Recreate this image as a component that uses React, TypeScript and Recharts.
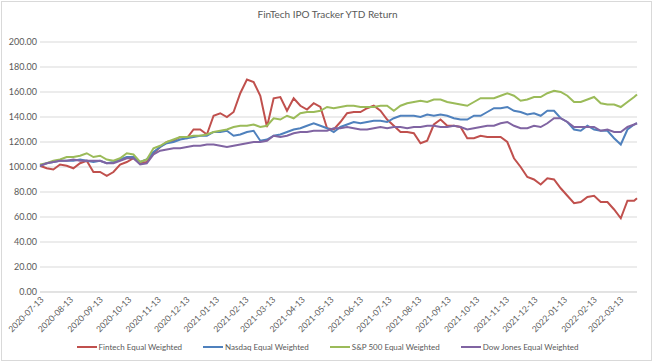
import { LineChart, Line, XAxis, YAxis, CartesianGrid, Legend } from "recharts"

// weekly closes, indexed to 100 at 2020-07-13
const dates = [
  "2020-07-13", "2020-07-20", "2020-07-27", "2020-08-03", "2020-08-10", "2020-08-17", "2020-08-24", "2020-08-31",
  "2020-09-07", "2020-09-14", "2020-09-21", "2020-09-28", "2020-10-05", "2020-10-12", "2020-10-19", "2020-10-26",
  "2020-11-02", "2020-11-09", "2020-11-16", "2020-11-23", "2020-11-30", "2020-12-07", "2020-12-14", "2020-12-21",
  "2020-12-28", "2021-01-04", "2021-01-11", "2021-01-18", "2021-01-25", "2021-02-01", "2021-02-08", "2021-02-15",
  "2021-02-22", "2021-03-01", "2021-03-08", "2021-03-15", "2021-03-22", "2021-03-29", "2021-04-05", "2021-04-12",
  "2021-04-19", "2021-04-26", "2021-05-03", "2021-05-10", "2021-05-17", "2021-05-24", "2021-05-31", "2021-06-07",
  "2021-06-14", "2021-06-21", "2021-06-28", "2021-07-05", "2021-07-12", "2021-07-19", "2021-07-26", "2021-08-02",
  "2021-08-09", "2021-08-16", "2021-08-23", "2021-08-30", "2021-09-06", "2021-09-13", "2021-09-20", "2021-09-27",
  "2021-10-04", "2021-10-11", "2021-10-18", "2021-10-25", "2021-11-01", "2021-11-08", "2021-11-15", "2021-11-22",
  "2021-11-29", "2021-12-06", "2021-12-13", "2021-12-20", "2021-12-27", "2022-01-03", "2022-01-10", "2022-01-17",
  "2022-01-24", "2022-01-31", "2022-02-07", "2022-02-14", "2022-02-21", "2022-02-28", "2022-03-07", "2022-03-14",
  "2022-03-21", "2022-03-28", "2022-03-31",
]

const fintech = [
  101, 99, 98, 102, 101, 99, 103, 105, 96, 96, 93, 96, 102, 104, 107, 103, 104, 111, 116, 120, 121, 124, 123,
  130, 130, 126, 141, 143, 140, 144, 159, 170, 168, 157, 132, 155, 156, 145, 155, 149, 146, 151, 148, 131, 130, 136,
  143, 144, 144, 147, 149, 145, 138, 133, 128, 128, 127, 119, 121, 134, 138, 133, 133, 132, 123, 123, 125, 124,
  124, 124, 120, 107, 100, 92, 90, 86, 91, 90, 83, 77, 71, 72, 76, 77, 72, 72, 66, 59, 73, 73, 75,
]

const nasdaq = [
  101, 103, 104, 105, 105, 105, 106, 105, 104, 105, 103, 104, 106, 108, 108, 104, 106, 112, 116, 119, 120, 122, 123,
  124, 125, 125, 128, 128, 129, 125, 126, 128, 129, 121, 122, 125, 126, 128, 130, 131, 133, 135, 133, 131, 128, 132,
  134, 136, 135, 136, 137, 137, 136, 139, 141, 141, 141, 140, 142, 141, 142, 141, 139, 138, 138, 141, 141, 144,
  147, 147, 148, 145, 144, 142, 143, 141, 145, 145, 139, 136, 130, 129, 133, 130, 129, 129, 123, 118, 130, 134, 135,
]

const sp500 = [
  102, 103, 105, 106, 108, 108, 109, 111, 108, 109, 106, 105, 107, 111, 110, 104, 106, 115, 117, 120, 122, 124, 124,
  125, 125, 126, 128, 129, 130, 132, 133, 133, 134, 132, 133, 139, 138, 141, 139, 143, 144, 144, 145, 148, 147, 148,
  149, 149, 148, 148, 148, 149, 149, 145, 149, 151, 152, 153, 152, 154, 154, 152, 151, 150, 149, 152, 155, 155,
  155, 157, 159, 157, 153, 154, 156, 156, 159, 161, 160, 157, 152, 152, 154, 156, 151, 150, 150, 148, 152, 156, 158,
]

const dowJones = [
  101, 103, 104, 105, 105, 106, 105, 105, 105, 105, 103, 103, 105, 107, 107, 102, 103, 110, 113, 114, 115, 115, 116,
  117, 117, 118, 118, 117, 116, 117, 118, 119, 120, 120, 121, 125, 124, 125, 127, 128, 128, 129, 129, 129, 131, 131,
  132, 131, 130, 130, 131, 132, 131, 132, 132, 131, 132, 132, 133, 133, 132, 132, 133, 132, 130, 131, 132, 133,
  133, 135, 136, 133, 131, 131, 133, 132, 135, 139, 139, 136, 132, 132, 132, 132, 129, 130, 128, 128, 132, 134, 135,
]

const xTicks = [
  "2020-07-13", "2020-08-13", "2020-09-13", "2020-10-13", "2020-11-13", "2020-12-13", "2021-01-13",
  "2021-02-13", "2021-03-13", "2021-04-13", "2021-05-13", "2021-06-13", "2021-07-13", "2021-08-13",
  "2021-09-13", "2021-10-13", "2021-11-13", "2021-12-13", "2022-01-13", "2022-02-13", "2022-03-13",
]

const yTicks = [0, 20, 40, 60, 80, 100, 120, 140, 160, 180, 200]

const series = [
  { key: "fintech", name: "Fintech Equal Weighted", color: "#c0504d" },
  { key: "nasdaq", name: "Nasdaq Equal Weighted", color: "#4f81bd" },
  { key: "sp500", name: "S&P 500 Equal Weighted", color: "#9bbb59" },
  { key: "dowJones", name: "Dow Jones Equal Weighted", color: "#8064a2" },
]

const FONT = "Lato, 'Open Sans', sans-serif"
const TEXT = "#595959"

const chartData = dates.map((d, i) => ({
  t: Date.parse(d),
  fintech: fintech[i],
  nasdaq: nasdaq[i],
  sp500: sp500[i],
  dowJones: dowJones[i],
}))

const fmtDate = (v: number) => new Date(v).toISOString().slice(0, 10)

function LegendContent() {
  return (
    <div
      style={{
        display: "flex",
        justifyContent: "center",
        fontFamily: FONT,
        fontSize: 8,
        color: TEXT,
      }}
    >
      {series.map((s) => (
        <div key={s.key} style={{ display: "flex", alignItems: "center", margin: "0 10.5px" }}>
          <span
            style={{ display: "inline-block", width: 20, height: 2.5, background: s.color, marginRight: 2 }}
          />
          {s.name}
        </div>
      ))}
    </div>
  )
}

export default function App() {
  return (
    <div style={{ position: "fixed", left: 0, top: 0, width: 655, height: 363, background: "#fff" }}>
      <div
        style={{
          position: "absolute",
          left: 0,
          top: 8,
          width: 655,
          textAlign: "center",
          fontFamily: FONT,
          fontSize: 10,
          color: TEXT,
        }}
      >
        FinTech IPO Tracker YTD Return
      </div>

      <LineChart width={655} height={363} data={chartData} margin={{ top: 42, right: 18, left: 0, bottom: 0 }}>
        <CartesianGrid vertical={false} stroke="#d9d9d9" />

        <XAxis
          dataKey="t"
          type="number"
          domain={[Date.parse("2020-07-13"), Date.parse("2022-03-31")]}
          ticks={xTicks.map((d) => Date.parse(d))}
          tickFormatter={fmtDate}
          height={71}
          angle={-45}
          textAnchor="end"
          tickLine={false}
          tickSize={2}
          tickMargin={2}
          interval={0}
          stroke="#d9d9d9"
          tick={{ fontSize: 8.5, fill: TEXT, fontFamily: FONT }}
        />

        <YAxis
          domain={[0, 200]}
          ticks={yTicks}
          width={40}
          axisLine={false}
          tickLine={false}
          tickSize={0}
          tickMargin={3}
          tickFormatter={(v: number) => v.toFixed(2)}
          tick={{ fontSize: 9, fill: TEXT, fontFamily: FONT }}
        />

        <Legend
          verticalAlign="middle"
          align="center"
          content={<LegendContent />}
          wrapperStyle={{ top: 342, left: 0, width: 655 }}
        />

        {series.map((s) => (
          <Line
            key={s.key}
            type="linear"
            dataKey={s.key}
            name={s.name}
            stroke={s.color}
            strokeWidth={2}
            dot={false}
            isAnimationActive={false}
          />
        ))}
      </LineChart>

      <div
        style={{
          position: "absolute",
          left: 1,
          top: 1,
          width: 651,
          height: 360,
          border: "1px solid #d9d9d9",
          boxSizing: "border-box",
          pointerEvents: "none",
        }}
      />
    </div>
  )
}
